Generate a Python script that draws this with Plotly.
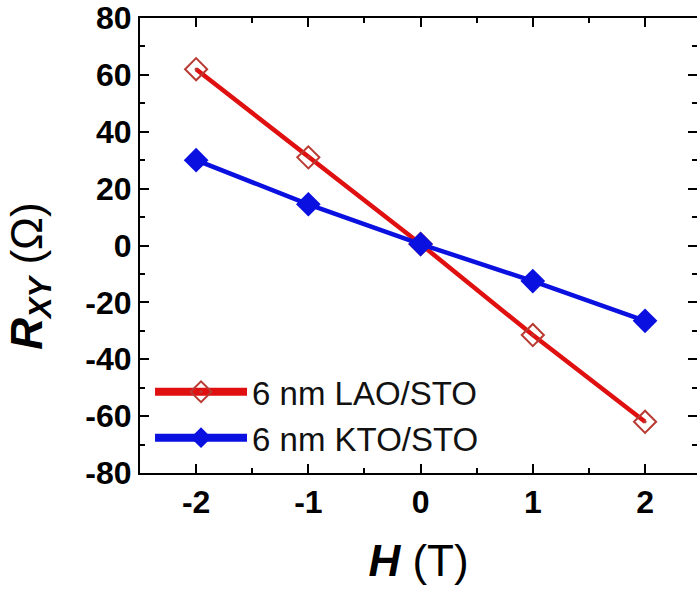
import plotly.graph_objects as go

H = [-2, -1, 0, 1, 2]
R_LAO = [62, 31, 0.5, -31.5, -62]
R_KTO = [30, 14.5, 0.5, -12.5, -26.5]
names = ["6 nm LAO/STO", "6 nm KTO/STO"]
x_ticks = [-2, -1, 0, 1, 2]
x_ticktext = ["-2", "-1", "0", "1", "2"]
y_ticks = [-80, -60, -40, -20, 0, 20, 40, 60, 80]
y_ticktext = ["-80", "-60", "-40", "-20", "0", "20", "40", "60", "80"]

FONT = "Liberation Sans, Arial, sans-serif"
RED = "#e01010"
RED_EDGE = "#b83a32"
BLUE = "#0a10e0"

lao_marker = dict(symbol="diamond-open-dot", size=17, color=RED_EDGE, line=dict(color=RED_EDGE, width=2))
kto_marker = dict(symbol="diamond", size=19, color=BLUE)

fig = go.Figure()
fig.add_trace(go.Scatter(
    x=H, y=R_LAO, name=names[0], mode="lines+markers", legendgroup="lao", showlegend=False,
    line=dict(color=RED, width=4.5), marker=lao_marker,
))
fig.add_trace(go.Scatter(
    x=H, y=R_KTO, name=names[1], mode="lines+markers", legendgroup="kto", showlegend=False,
    line=dict(color=BLUE, width=4.5), marker=kto_marker,
))
# legend entries (thicker legend lines, as in the reference)
fig.add_trace(go.Scatter(x=[None], y=[None], name=names[0], mode="lines+markers", legendgroup="lao",
                         line=dict(color=RED, width=8), marker=lao_marker))
fig.add_trace(go.Scatter(x=[None], y=[None], name=names[1], mode="lines+markers", legendgroup="kto",
                         line=dict(color=BLUE, width=8), marker=kto_marker))
# invisible trace on secondary y-axis to provide right-side ticks without spine
fig.add_trace(go.Scatter(x=[H[0]], y=[R_LAO[0]], yaxis="y2", mode="markers",
                         marker=dict(opacity=0), showlegend=False, hoverinfo="skip"))

tickfont = dict(family=FONT, size=32, color="black", weight="bold")

fig.update_layout(
    width=697, height=589,
    margin=dict(l=140, r=0, t=18, b=116),
    paper_bgcolor="white", plot_bgcolor="white",
    font=dict(family=FONT, color="black"),
    xaxis=dict(
        range=[-2.5, 2.463], tickvals=x_ticks, ticktext=x_ticktext,
        showline=True, linecolor="black", linewidth=2, mirror="ticks",
        ticks="inside", ticklen=9, tickwidth=2, tickcolor="black",
        minor=dict(dtick=0.5, tick0=-2.5, ticks="inside", ticklen=5, tickwidth=2, tickcolor="black"),
        showgrid=False, zeroline=False, tickfont=tickfont,
        title=dict(text="<b><i>H</i></b> (T)", font=dict(size=44, family=FONT), standoff=26),
    ),
    yaxis=dict(
        range=[-80, 80], tickvals=y_ticks, ticktext=y_ticktext,
        showline=True, linecolor="black", linewidth=2, mirror=False,
        ticks="inside", ticklen=9, tickwidth=2, tickcolor="black",
        minor=dict(dtick=10, tick0=-80, ticks="inside", ticklen=5, tickwidth=2, tickcolor="black"),
        showgrid=False, zeroline=False, tickfont=tickfont,
    ),
    yaxis2=dict(
        overlaying="y", side="right", range=[-80, 80], tickvals=y_ticks,
        showticklabels=False, showline=False, ticks="inside", ticklen=9, tickwidth=2, tickcolor="black",
        minor=dict(dtick=10, tick0=-80, ticks="inside", ticklen=5, tickwidth=2, tickcolor="black"),
        showgrid=False, zeroline=False,
    ),
    legend=dict(
        x=0.018, y=0.24, xanchor="left", yanchor="top",
        bgcolor="rgba(0,0,0,0)", font=dict(size=33, family=FONT, color="#111"),
        itemwidth=92, tracegroupgap=0,
    ),
    annotations=[dict(
        text="<b><i>R</i></b><sub><b><i>XY</i></b></sub> (Ω)", textangle=-90,
        xref="paper", yref="paper", x=-0.198, y=0.433, xanchor="center", yanchor="middle",
        showarrow=False, font=dict(size=44, family=FONT, color="black"),
    )],
    showlegend=True,
)

fig.write_html("out.html")
